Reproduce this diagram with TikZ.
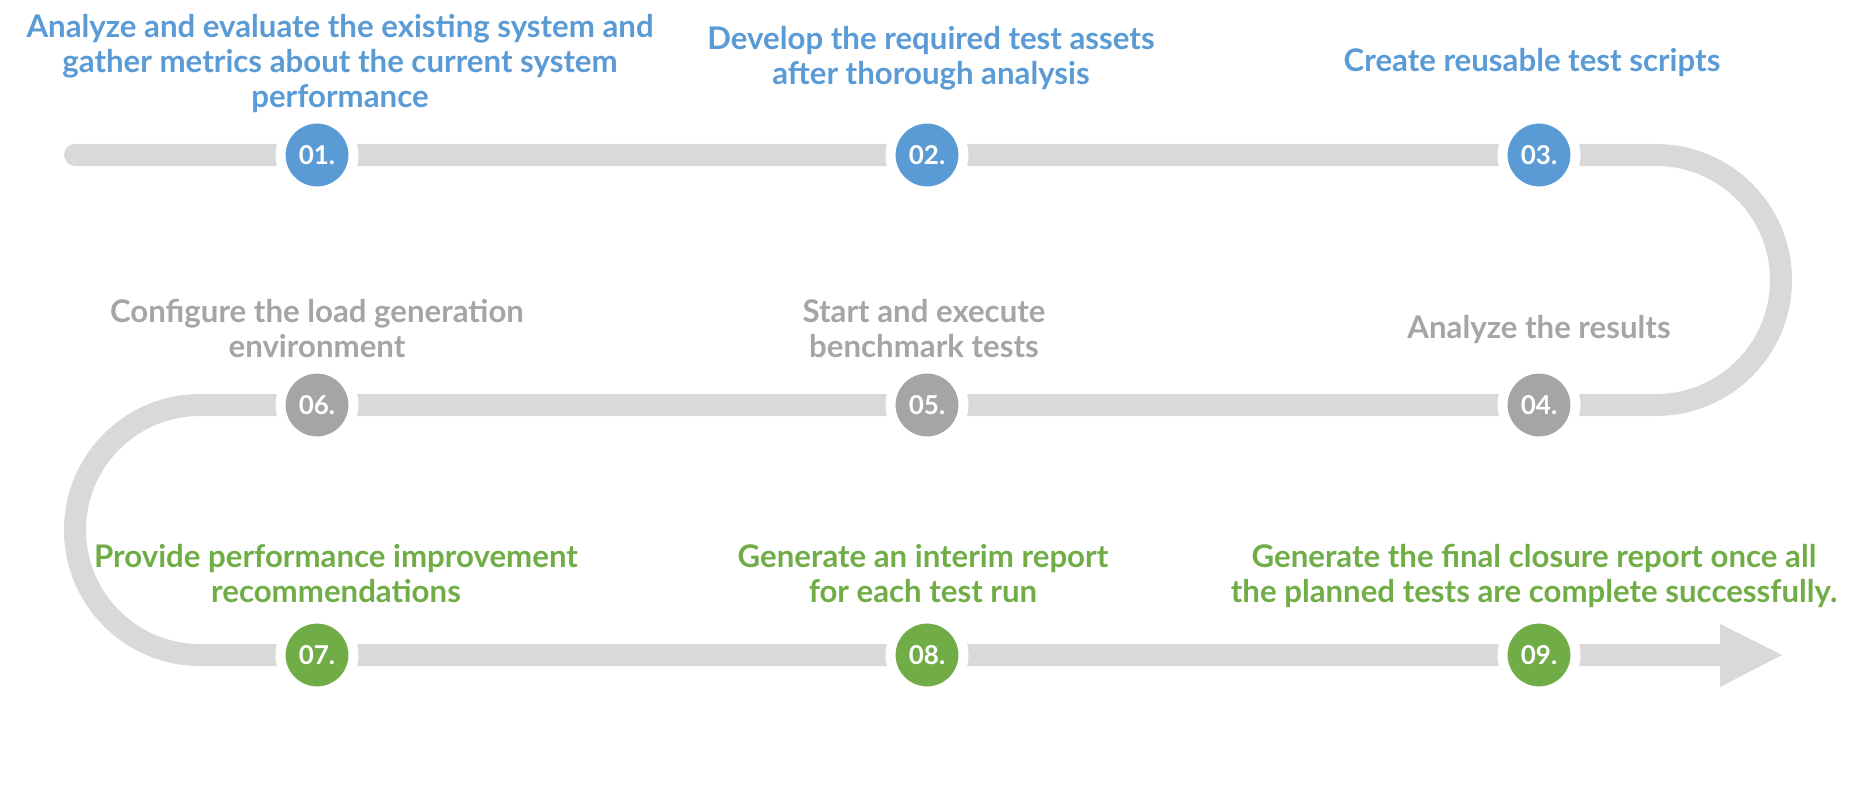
\documentclass[tikz,border=0pt]{standalone}
\usepackage{fontspec}
\setmainfont{Lato}
\definecolor{stepblue}{HTML}{5B9BD5}
\definecolor{stepgray}{HTML}{A5A5A5}
\definecolor{stepgreen}{HTML}{70AD47}
\definecolor{trackgray}{HTML}{D9D9D9}

\tikzset{
  track/.style={line width=11pt, trackgray, line cap=round},
  stepdot/.style={circle, fill=#1, draw=white, line width=5pt, minimum size=36.5pt,
    inner sep=0pt, text=white, font=\fontsize{13pt}{15pt}\selectfont\bfseries},
  steptext/.style={text=#1, font=\fontsize{15.6pt}{17.5pt}\selectfont\bfseries,
    align=center, anchor=base}
}

\begin{document}
\begin{tikzpicture}[x=0.5pt,y=-0.5pt]
  \useasboundingbox (0,0) rectangle (1852,808);

  % the road
  \coordinate (start) at (75,155);
  \coordinate (end) at (1720,655);
  \draw[track] (start) -- (1656,155) arc[start angle=-90, end angle=90, radius=125]
    -- (200,405) arc[start angle=270, end angle=90, radius=125] -- (end);
  \fill[trackgray] (1720,624) -- (1782,655) -- (1720,687) -- cycle;

  % the steps
  \node[stepdot=stepblue]  (s1) at (317,155)  {01.};
  \node[stepdot=stepblue]  (s2) at (927,155)  {02.};
  \node[stepdot=stepblue]  (s3) at (1539,155) {03.};
  \node[stepdot=stepgray]  (s4) at (1539,405) {04.};
  \node[stepdot=stepgray]  (s5) at (927,405)  {05.};
  \node[stepdot=stepgray]  (s6) at (317,405)  {06.};
  \node[stepdot=stepgreen] (s7) at (317,655)  {07.};
  \node[stepdot=stepgreen] (s8) at (927,655)  {08.};
  \node[stepdot=stepgreen] (s9) at (1539,655) {09.};

  % the texts (anchored at the last line)
  \node[steptext=stepblue] (t1) at (340,108) {Analyze and evaluate the existing system and\\gather metrics about the current system\\performance};
  \node[steptext=stepblue] (t2) at (931,85) {Develop the required test assets\\after thorough analysis};
  \node[steptext=stepblue] (t3) at (1532,72) {Create reusable test scripts};
  \node[steptext=stepgray] (t4) at (1539,338) {Analyze the results};
  \node[steptext=stepgray] (t5) at (924,357) {Start and execute\\benchmark tests};
  \node[steptext=stepgray] (t6) at (317,357) {Configure the load generation\\environment};
  \node[steptext=stepgreen] (t7) at (336,602) {Provide performance improvement\\recommendations};
  \node[steptext=stepgreen] (t8) at (923,602) {Generate an interim report\\for each test run};
  \node[steptext=stepgreen] (t9) at (1534,602) {Generate the final closure report once all\\the planned tests are complete successfully.};
\end{tikzpicture}
\end{document}
